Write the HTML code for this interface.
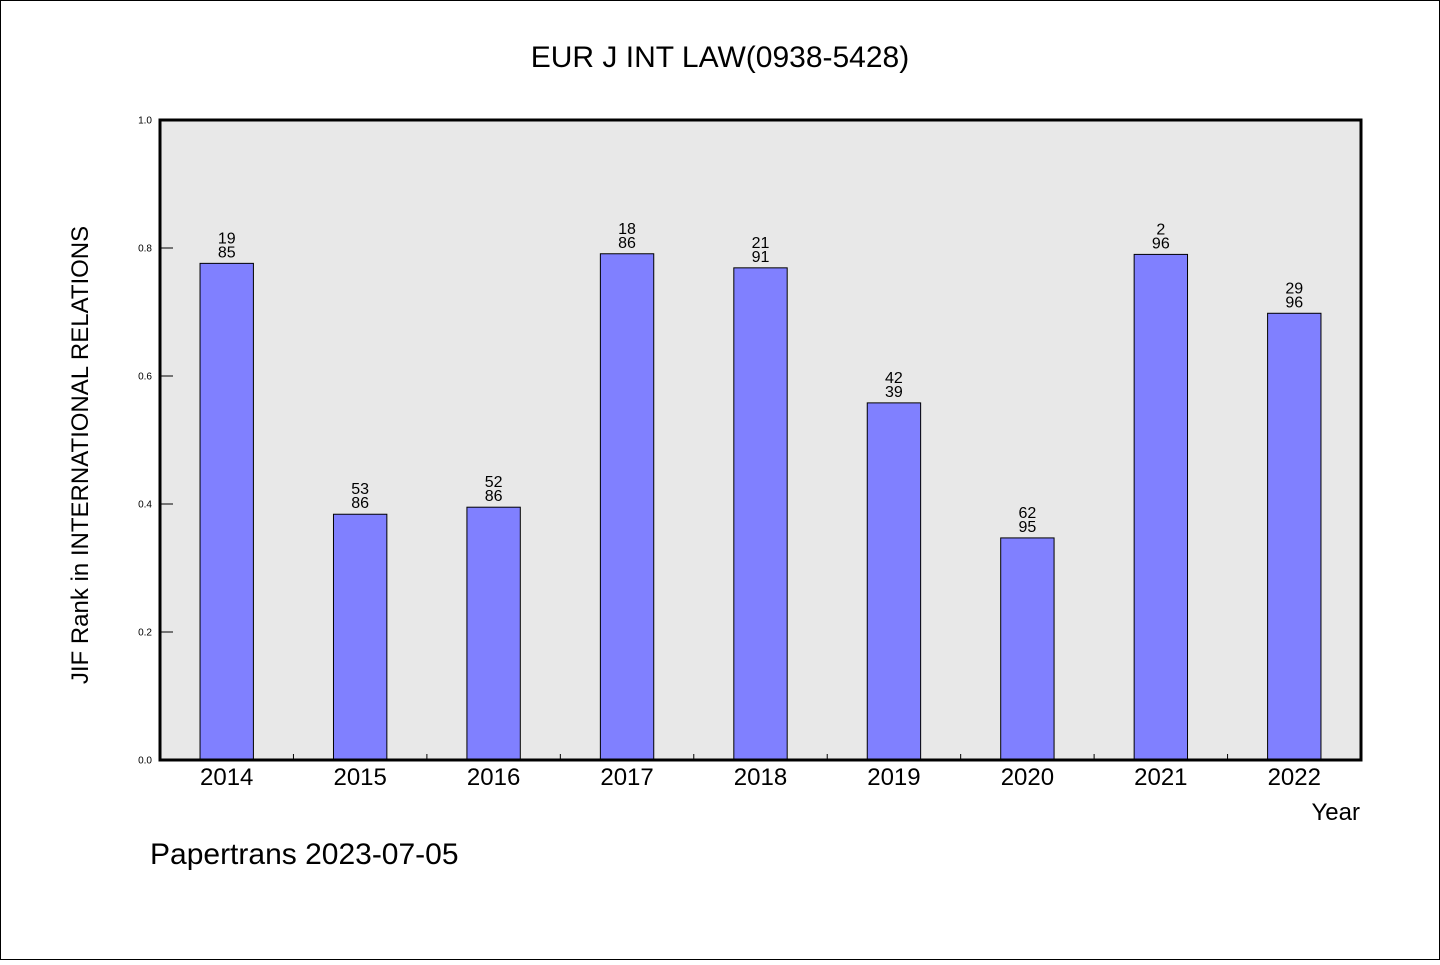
<!DOCTYPE html>
<html><head><meta charset="utf-8"><style>
body{margin:0;background:#fff}
svg text{font-family:"WenQuanYi Zen Hei","Liberation Sans",sans-serif;fill:#000}
</style></head><body>
<svg width="1440" height="960" xmlns="http://www.w3.org/2000/svg">
<rect x="0.5" y="0.5" width="1439" height="959" fill="#fff" stroke="#000"/>
<text x="720" y="67" font-size="30" text-anchor="middle">EUR J INT LAW(0938-5428)</text>
<rect x="160" y="120" width="1201" height="640" fill="#e8e8e8"/>
<g id="grid"></g>
<g id="bars"></g>
<rect x="160" y="120" width="1201" height="640" fill="none" stroke="#000" stroke-width="3"/>
<text transform="translate(88,455) rotate(-90)" font-size="24" text-anchor="middle">JIF Rank in INTERNATIONAL RELATIONS</text>
<text x="1360" y="820" font-size="24" text-anchor="end">Year</text>
<text x="150" y="864" font-size="30">Papertrans 2023-07-05</text>
</svg>
<script>
const years=["2014","2015","2016","2017","2018","2019","2020","2021","2022"];
const values=[0.776,0.384,0.395,0.791,0.769,0.558,0.347,0.79,0.698];
const rankTop=["19","53","52","18","21","42","62","2","29"];
const rankBottom=["85","86","86","86","91","39","95","96","96"];
const yTicks=[0,0.2,0.4,0.6,0.8,1.0];
const NS="http://www.w3.org/2000/svg";
const X0=160,X1=1361,Y0=760,Y1=120;
const band=(X1-X0)/years.length;
const y=v=>Y0-(Y0-Y1)*v;
const xc=i=>X0+band*(i+0.5);
function mk(tag,attrs,parent){const e=document.createElementNS(NS,tag);for(const k in attrs)e.setAttribute(k,attrs[k]);parent.appendChild(e);return e;}
const g=document.getElementById('grid'),b=document.getElementById('bars');
yTicks.forEach(t=>{
  const l=mk('line',{x1:X0,x2:X0+13,y1:y(t),y2:y(t),stroke:'#000'},g);
  
  
  const tx=mk('text',{x:152,y:y(t)+3.5,'font-size':10,'text-anchor':'end'},g);
  tx.textContent=t.toFixed(1);
  
  
});
for(let i=1;i<years.length;i++){
  const l=mk('line',{x1:X0+band*i,x2:X0+band*i,y1:Y0,y2:Y0-6,stroke:'#000'},g);
  
  
}
years.forEach((yr,i)=>{
  const w=band*0.4;
  const r=mk('rect',{x:xc(i)-w/2,y:y(values[i]),width:w,height:Y0-y(values[i]),fill:'#8080ff',stroke:'#000','stroke-width':1},b);
  
  
  const t1=mk('text',{x:xc(i),y:y(values[i])-20,'font-size':16,'text-anchor':'middle'},b);
  t1.textContent=rankTop[i];
  
  
  const t2=mk('text',{x:xc(i),y:y(values[i])-6,'font-size':16,'text-anchor':'middle'},b);
  t2.textContent=rankBottom[i];
  
  
  const xl=mk('text',{x:xc(i),y:785,'font-size':24,'text-anchor':'middle'},b);
  xl.textContent=yr;
  
  
});
</script>
</body></html>
